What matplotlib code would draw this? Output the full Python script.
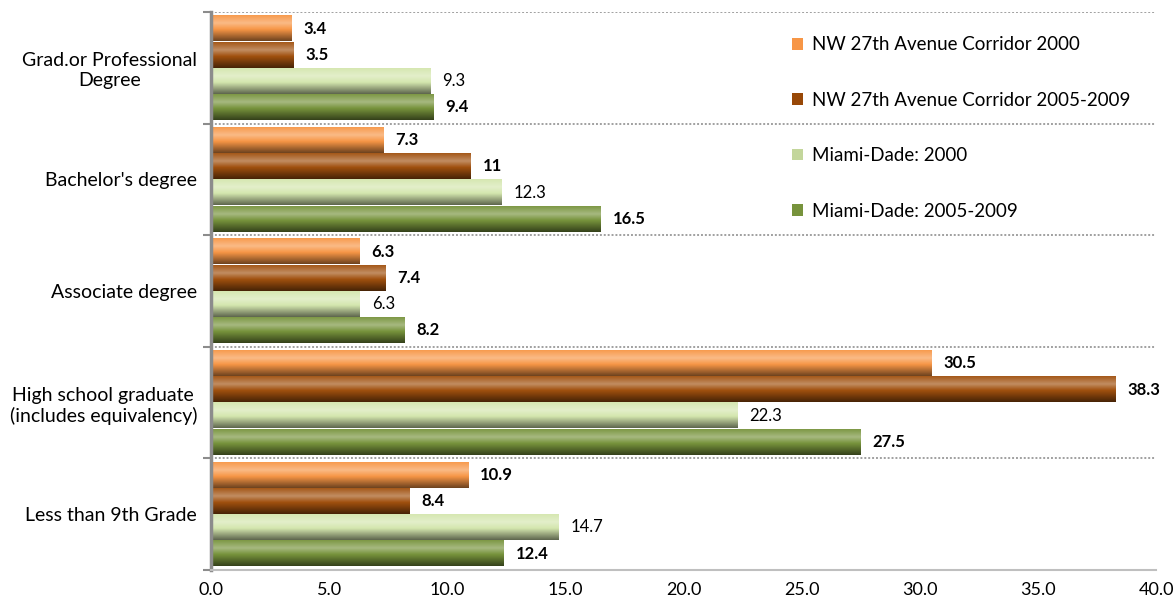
import numpy as np
import matplotlib
matplotlib.use("Agg")
from matplotlib import pyplot as plt
from matplotlib.colors import to_rgb
from matplotlib.patches import Patch

# data (bottom -> top)
categories = ["Less than 9th Grade", "High school graduate\n(includes equivalency)",
              "Associate degree", "Bachelor's degree", "Grad.or Professional\nDegree"]
series_names = ["NW 27th Avenue Corridor 2000", "NW 27th Avenue Corridor 2005-2009",
                "Miami-Dade: 2000", "Miami-Dade: 2005-2009"]
nw_2000 = [10.9, 30.5, 6.3, 7.3, 3.4]
nw_2005_2009 = [8.4, 38.3, 7.4, 11, 3.5]
md_2000 = [14.7, 22.3, 6.3, 12.3, 9.3]
md_2005_2009 = [12.4, 27.5, 8.2, 16.5, 9.4]
value_labels = [
    ["10.9", "30.5", "6.3", "7.3", "3.4"],
    ["8.4", "38.3", "7.4", "11", "3.5"],
    ["14.7", "22.3", "6.3", "12.3", "9.3"],
    ["12.4", "27.5", "8.2", "16.5", "9.4"],
]
x_ticks = [0, 5, 10, 15, 20, 25, 30, 35, 40]

colors = ["#F79646", "#A0500E", "#D4E6AE", "#77933C"]
legend_colors = ["#F79646", "#984807", "#C3D69B", "#77933C"]
bold = [True, True, False, True]

plt.rcParams['font.family'] = ['Lato', 'DejaVu Sans']

fig = plt.figure(figsize=(11.74, 6.07), dpi=100)
ax = fig.add_axes([0.1797, 0.061, 0.805, 0.919])

all_series = [nw_2000, nw_2005_2009, md_2000, md_2005_2009]
y = np.arange(len(categories))
step = 0.235
offsets = [1.5 * step, 0.5 * step, -0.5 * step, -1.5 * step]


def shade(c, f):
    c = np.array(to_rgb(c))
    if f >= 0:
        return c + (1 - c) * f
    return c * (1 + f)


def gradient(c):
    # cylinder look: top normal, highlight, darker bottom
    stops = [(0.0, 0.05), (0.3, 0.35), (0.55, 0.0), (1.0, -0.55)]
    t = np.linspace(0, 1, 40)
    fs = np.interp(t, [s[0] for s in stops], [s[1] for s in stops])
    img = np.array([shade(c, f) for f in fs])
    return img[:, None, :]


for i, vals in enumerate(all_series):
    bars = ax.barh(y + offsets[i], vals, height=0.228, color="none",
                   edgecolor="none", label=series_names[i])
    img = gradient(colors[i])
    for b, txt in zip(bars, value_labels[i]):
        x0, y0, w, h = b.get_x(), b.get_y(), b.get_width(), b.get_height()
        ax.imshow(img, extent=[x0, x0 + w, y0, y0 + h], aspect="auto",
                  origin="upper", zorder=2, interpolation="bilinear")
        ax.text(x0 + w + 0.5, y0 + h / 2, txt, va="center", ha="left",
                fontsize=12, fontweight="bold" if bold[i] else "normal",
                color="black", zorder=3)

ax.set_xlim(0, 40)
ax.set_ylim(-0.5, len(categories) - 0.5)

# gridlines at group boundaries
bounds = np.arange(-0.5, len(categories), 1.0)
for yb in bounds:
    ax.axhline(yb, color="#a0a0a0", linestyle=(0, (1, 1)), linewidth=1.4, zorder=1)

ax.set_yticks(y)
ax.set_yticklabels(categories, fontsize=14, ha="right", multialignment="center")
ax.tick_params(axis="y", length=0, pad=10)
ax.set_yticks(bounds, minor=True)
ax.tick_params(axis="y", which="minor", length=6, width=1.5, color="#8c8c8c")

ax.set_xticks(x_ticks)
ax.set_xticklabels([f"{t:.1f}" for t in x_ticks], fontsize=13)
ax.tick_params(axis="x", length=0, pad=9)

for s in ["top", "right"]:
    ax.spines[s].set_visible(False)
ax.spines["left"].set_color("#8c8c8c")
ax.spines["left"].set_linewidth(2.5)
ax.spines["bottom"].set_color("#bfbfbf")
ax.spines["bottom"].set_linewidth(1.5)

handles = [Patch(facecolor=c, edgecolor="none") for c in legend_colors]
ax.legend(handles, series_names, loc="upper left", bbox_to_anchor=(0.597, 0.987),
          frameon=False, fontsize=13.5, handlelength=0.6, handleheight=0.6,
          handletextpad=0.45, labelspacing=2.05)

fig.savefig("out.png", dpi=100)
